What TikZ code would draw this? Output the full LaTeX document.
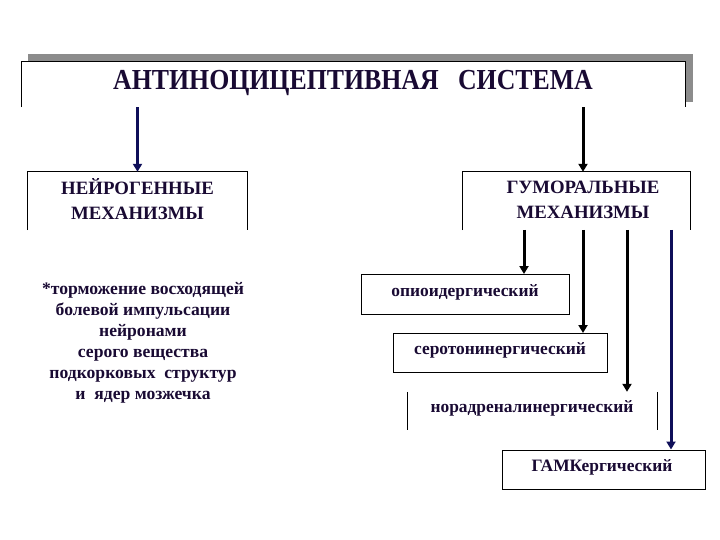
\documentclass[tikz,border=0pt]{standalone}
\usepackage{graphicx}
\usepackage{fontspec}
\setmainfont{Liberation Serif}
\usetikzlibrary{arrows.meta,calc}
\definecolor{txt}{rgb}{0.10,0.04,0.20}
\definecolor{navy}{rgb}{0.06,0.06,0.35}
\definecolor{shadow}{rgb}{0.55,0.55,0.55}
\tikzset{
  box/.style={draw=none,inner sep=0pt,minimum width=#1},
  lbl/.style={text=txt,font=\bfseries,inner sep=0pt,align=center},
  brd/.style={line width=1.2pt,black},
  arr/.style={line width=3pt,-{Triangle[width=9pt,length=8pt]}},
  small/.style={lbl,font=\bfseries\fontsize{17.4}{19}\selectfont},
  sbox/.style={draw,line width=1pt,inner sep=0pt},
}
\begin{document}
\begin{tikzpicture}[x=1pt,y=-1pt]
\useasboundingbox (0,0) rectangle (720,540);
% top box shadow
\fill[shadow] (28,54) rectangle (693,62);
\fill[shadow] (685,54) rectangle (693,102);
% top box
\node[box=663pt,minimum height=45pt] (top) at (353.5,84.5) {};
\draw[brd] (top.south west) -- (top.north west) -- (top.north east) -- (top.south east);
\node[lbl,font=\bfseries\fontsize{29}{32}\selectfont] (title) at (353,82.5) {\scalebox{0.89}[1]{АНТИНОЦИЦЕПТИВНАЯ\ \ \ СИСТЕМА}};
% neuro box
\node[box=219pt,minimum height=58pt] (neuro) at (137.5,201) {};
\draw[brd] (neuro.south west) -- (neuro.north west) -- (neuro.north east) -- (neuro.south east);
\node[lbl,font=\bfseries\fontsize{18.8}{25}\selectfont] (neurotxt) at (137.5,199.5) {НЕЙРОГЕННЫЕ\\МЕХАНИЗМЫ};
% humoral box
\node[box=227pt,minimum height=58pt] (hum) at (576.5,201) {};
\draw[brd] (hum.south west) -- (hum.north west) -- (hum.north east) -- (hum.south east);
\node[lbl,font=\bfseries\fontsize{18.8}{25}\selectfont] (humtxt) at (583,199.5) {ГУМОРАЛЬНЫЕ\\МЕХАНИЗМЫ};
% arrows from top
\draw[arr,navy] (top.south -| neurotxt.north) -- (neuro.north -| neurotxt.north);
\draw[arr,black] (top.south -| humtxt.north) -- (hum.north -| humtxt.north);
% left text
\node[lbl,font=\bfseries\fontsize{17.6}{21}\selectfont] (ltxt) at (143,342.5) {*торможение восходящей\\болевой импульсации\\нейронами\\серого вещества\\подкорковых\ \ структур\\и\ \ ядер мозжечка};
% opioid
\node[sbox,minimum width=208pt,minimum height=40pt] (opi) at (465,294.5) {};
\node[small] (opitxt) at (465,292) {опиоидергический};
% serotonin
\node[sbox,minimum width=214pt,minimum height=39pt] (ser) at (500,353) {};
\node[small] (sertxt) at (500,350) {серотонинергический};
% noradren
\node[box=249pt,minimum height=38pt] (nor) at (532.5,411) {};
\draw[line width=1pt] (nor.north west) -- (nor.south west);
\draw[line width=1pt] (nor.north east) -- (nor.south east);
\node[small] (nortxt) at (532,408) {норадреналинергический};
% GAMK
\node[sbox,minimum width=203pt,minimum height=39pt] (gamk) at (603.5,469.5) {};
\node[small] (gamktxt) at (602,467) {ГАМКергический};
% humoral arrows
\coordinate (h1) at (524,230);
\coordinate (h2) at (583,230);
\coordinate (h3) at (627,230);
\coordinate (h4) at (671,230);
\draw[arr,black] (h1) -- (h1 |- opi.north);
\draw[arr,black] (h2) -- (h2 |- ser.north);
\draw[arr,black] (h3) -- (h3 |- nor.north);
\draw[arr,navy] (h4) -- (h4 |- gamk.north);
\end{tikzpicture}
\end{document}
